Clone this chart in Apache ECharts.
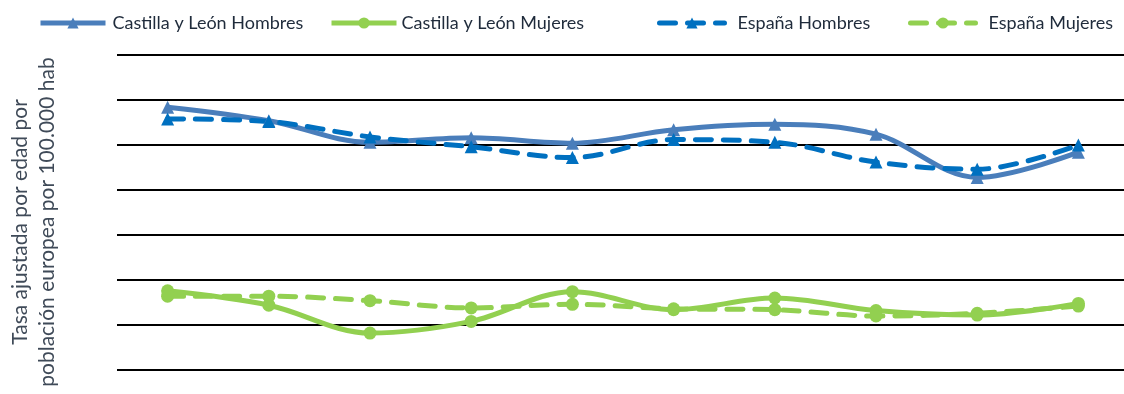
<!DOCTYPE html>
<html>
<head>
<meta charset="utf-8">
<script src="https://cdn.jsdelivr.net/npm/echarts@6/dist/echarts.min.js"></script>
<style>
html,body{margin:0;padding:0;background:#fff;}
#chart{width:1124px;height:394px;}
</style>
</head>
<body>
<div id="chart"></div>
<script>
const categories = ['2010','2011','2012','2013','2014','2015','2016','2017','2018','2019'];
const cylHombres = [292, 277, 253, 258, 252, 267, 273, 262, 214, 242];
const espHombres = [279, 276, 259, 248, 236, 256, 253, 231, 223, 250];
const cylMujeres = [88, 72, 41, 54, 87, 67, 80, 66, 61, 74];
const espMujeres = [82, 82, 77, 69, 73, 68, 67, 60, 63, 71];
const seriesNames = ['Castilla y León Hombres','Castilla y León Mujeres','España Hombres','España Mujeres'];
const yTitle = 'Tasa ajustada por edad por\npoblación europea por 100.000 hab';

const FONT = 'Lato';
const legendText = {fontFamily: FONT, fontSize: 18, color: '#1f2b3b'};
function legendAt(name, left, pad) {
  return {
    data: [name], left: left, top: 14, padding: 0, itemWidth: 65, itemHeight: 14,
    lineStyle: {width: 5},
    textStyle: Object.assign({padding: [0, 0, 0, pad]}, legendText)
  };
}

const chart = echarts.init(document.getElementById('chart'), null, {renderer: 'canvas'});
chart.setOption({
  animation: false,
  backgroundColor: '#fff',
  legend: [
    legendAt(seriesNames[0], 38, 2),
    legendAt(seriesNames[1], 329, 0),
    legendAt(seriesNames[2], 657, 8),
    legendAt(seriesNames[3], 908, 8)
  ],
  grid: {left: 117, width: 1012, top: 55, bottom: 24, outerBoundsMode: 'none', containLabel: false},
  xAxis: {
    type: 'category', data: categories, boundaryGap: true,
    axisLine: {show: false}, axisTick: {show: false}, axisLabel: {show: false}
  },
  yAxis: {
    type: 'value', min: 0, max: 350, interval: 50,
    axisLine: {show: false}, axisTick: {show: false}, axisLabel: {show: false},
    splitLine: {show: true, lineStyle: {color: '#000', width: 2}}
  },
  graphic: [{
    type: 'text', x: 34, y: 222, rotation: Math.PI / 2,
    style: {text: yTitle, fontFamily: FONT, fontSize: 21, fill: '#3f4a58',
      align: 'center', verticalAlign: 'middle', lineHeight: 27}
  }],
  series: [
    {name: seriesNames[0], type: 'line', data: cylHombres, smooth: 0.35,
     symbol: 'triangle', symbolSize: 13,
     lineStyle: {color: '#4a7ebb', width: 5}, itemStyle: {color: '#4a7ebb'}},
    {name: seriesNames[1], type: 'line', data: cylMujeres, smooth: 0.35,
     symbol: 'circle', symbolSize: 13,
     lineStyle: {color: '#92d050', width: 5}, itemStyle: {color: '#92d050'}},
    {name: seriesNames[2], type: 'line', data: espHombres, smooth: 0.35,
     symbol: 'triangle', symbolSize: 13,
     lineStyle: {color: '#0070c0', width: 5, type: [16, 12], cap: 'round'}, itemStyle: {color: '#0070c0'}},
    {name: seriesNames[3], type: 'line', data: espMujeres, smooth: 0.35,
     symbol: 'circle', symbolSize: 13,
     lineStyle: {color: '#92d050', width: 5, type: [16, 12], cap: 'round'}, itemStyle: {color: '#92d050'}}
  ]
});
</script>
</body>
</html>
